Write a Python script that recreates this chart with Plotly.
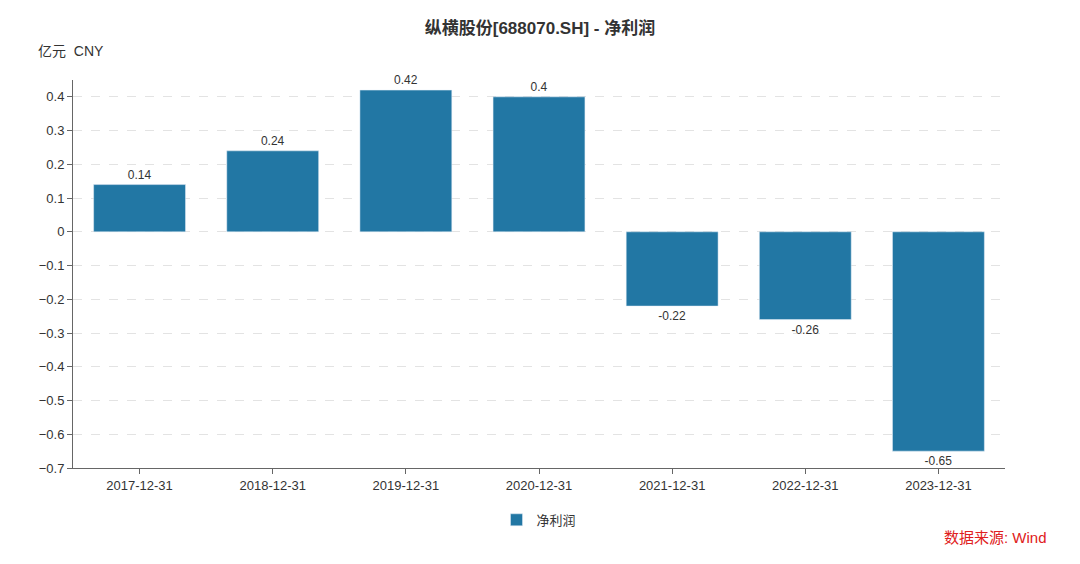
import plotly.graph_objects as go

# Data
dates = ["2017-12-31", "2018-12-31", "2019-12-31", "2020-12-31",
         "2021-12-31", "2022-12-31", "2023-12-31"]
net_profit = [0.14, 0.24, 0.42, 0.4, -0.22, -0.26, -0.65]
tick_vals = [0.4, 0.3, 0.2, 0.1, 0, -0.1, -0.2, -0.3, -0.4, -0.5, -0.6, -0.7]

font = "Liberation Sans, Noto Sans CJK SC"

fig = go.Figure()
fig.add_trace(go.Bar(
    x=dates, y=net_profit, name="净利润",
    marker_color="#2277a4",
    text=[str(v) for v in net_profit], textposition="outside",
    textfont=dict(size=12, color="#333333"),
    cliponaxis=False,
))

fig.update_layout(
    width=1064, height=548,
    paper_bgcolor="white", plot_bgcolor="white",
    font=dict(family=font, color="#333333", size=13),
    title=dict(text="<b>纵横股份[688070.SH] - 净利润</b>", x=0.5, y=0.975,
               xanchor="center", font=dict(size=17, color="#333333")),
    margin=dict(l=65, r=67, t=72, b=88),
    bargap=0.31,
    showlegend=True,
    legend=dict(orientation="h", x=0.5, xanchor="center", y=-0.095, yanchor="top",
                font=dict(size=13)),
    xaxis=dict(type="category", showline=True, linecolor="#666666",
               ticks="outside", ticklen=5, tickcolor="#666666",
               tickfont=dict(size=13)),
    yaxis=dict(range=[-0.7, 0.45], tickvals=tick_vals,
               showline=True, linecolor="#666666",
               ticks="outside", ticklen=5, tickcolor="#666666",
               showgrid=True, gridcolor="#e3e3e3", griddash="dash",
               zeroline=False, tickfont=dict(size=13)),
    annotations=[
        dict(text="亿元  CNY", xref="paper", yref="paper", x=-0.04, y=1.075,
             xanchor="left", yanchor="middle", showarrow=False,
             font=dict(size=14, color="#333333")),
        dict(text="数据来源: Wind", xref="paper", yref="paper", x=1.047, y=-0.18,
             xanchor="right", yanchor="middle", showarrow=False,
             font=dict(size=15, color="#e02020")),
    ],
)

fig.write_html("out.html")
